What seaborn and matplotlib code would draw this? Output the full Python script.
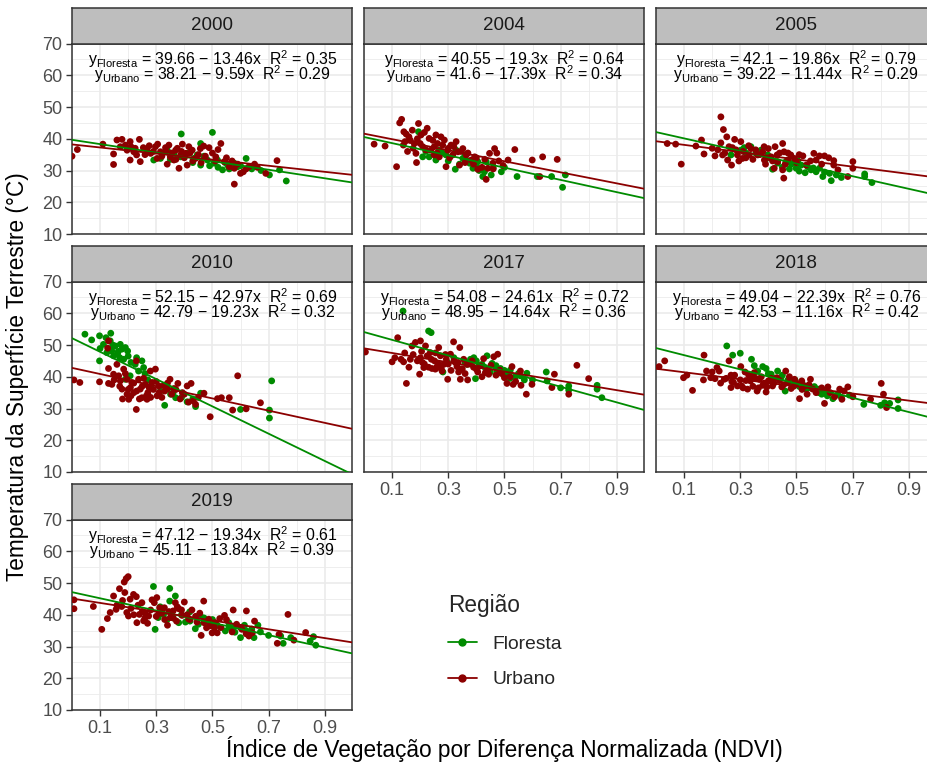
import numpy as np
import pandas as pd
import matplotlib
matplotlib.use("Agg")
import matplotlib.pyplot as plt
from matplotlib.lines import Line2D
import seaborn as sns

# ---------------------------------------------------------------- data
years = ["2000", "2004", "2005", "2010", "2017", "2018", "2019"]

intercept_floresta = [39.66, 40.55, 42.1, 52.15, 54.08, 49.04, 47.12]
slope_floresta = [-13.46, -19.3, -19.86, -42.97, -24.61, -22.39, -19.34]
r2_floresta = [0.35, 0.64, 0.79, 0.69, 0.72, 0.76, 0.61]
intercept_urbano = [38.21, 41.6, 39.22, 42.79, 48.95, 42.53, 45.11]
slope_urbano = [-9.59, -17.39, -11.44, -19.23, -14.64, -11.16, -13.84]
r2_urbano = [0.29, 0.34, 0.29, 0.32, 0.36, 0.42, 0.39]

# NDVI / LST samples, forest
ndvi_fl_2000 = [0.389, 0.5, 0.458, 0.291, 0.339, 0.434, 0.458, 0.482, 0.506, 0.536, 0.554, 0.578, 0.59, 0.62, 0.673, 0.703, 0.739, 0.763, 0.41, 0.387, 0.446, 0.518, 0.363, 0.315,
                0.35, 0.43, 0.47, 0.49, 0.52, 0.545, 0.56, 0.6, 0.64]
lst_fl_2000 = [41.5, 42.0, 38.5, 33.3, 36.4, 33.8, 31.7, 33.3, 32.3, 30.2, 31.7, 32.3, 31.2, 33.8, 30.0, 28.6, 30.2, 26.7, 35.4, 34.3, 34.9, 33.3, 35.4, 33.8,
               33.5, 32.5, 34.5, 31.5, 31.0, 32.5, 30.5, 31.5, 30.5]
ndvi_fl_2004 = [0.194, 0.209, 0.256, 0.292, 0.325, 0.328, 0.352, 0.376, 0.388, 0.405, 0.423, 0.429, 0.453, 0.489, 0.545, 0.617, 0.668, 0.707, 0.717, 0.435, 0.364, 0.268, 0.232,
                0.22, 0.3, 0.34, 0.36, 0.4, 0.41, 0.46, 0.5, 0.28]
lst_fl_2004 = [42.2, 34.3, 33.3, 34.9, 30.4, 36.4, 33.8, 32.3, 30.7, 32.8, 28.1, 29.6, 28.6, 29.6, 28.1, 28.1, 28.1, 24.7, 28.6, 32.8, 33.3, 36.4, 34.3,
               36.0, 33.0, 32.0, 35.0, 31.5, 30.0, 30.8, 31.0, 35.5]
ndvi_fl_2005 = [0.302, 0.314, 0.338, 0.356, 0.374, 0.415, 0.433, 0.463, 0.482, 0.499, 0.517, 0.531, 0.54, 0.552, 0.57, 0.582, 0.594, 0.618, 0.624, 0.642, 0.743, 0.743, 0.769, 0.267, 0.398, 0.505,
                0.32, 0.39, 0.45, 0.475, 0.49, 0.51, 0.56, 0.6, 0.66]
lst_fl_2005 = [36.4, 37.2, 37.5, 35.4, 36.4, 30.4, 32.3, 32.8, 32.0, 30.7, 31.7, 29.3, 31.2, 30.2, 29.6, 30.7, 28.1, 29.1, 26.8, 28.6, 28.9, 28.1, 26.2, 34.9, 34.9, 33.1,
               35.5, 33.5, 31.0, 30.5, 32.5, 29.8, 30.8, 29.5, 27.8]
ndvi_fl_2010 = [0.046, 0.07, 0.098, 0.1, 0.098, 0.112, 0.121, 0.138, 0.136, 0.142, 0.154, 0.162, 0.172, 0.178, 0.19, 0.198, 0.184, 0.225, 0.249, 0.255, 0.237, 0.19, 0.207, 0.315, 0.33, 0.351, 0.369, 0.41, 0.44, 0.458, 0.6, 0.703, 0.703, 0.711, 0.148, 0.124,
                0.13, 0.145, 0.165, 0.17, 0.2, 0.21, 0.23, 0.26, 0.27, 0.28, 0.34, 0.36, 0.39, 0.43]
lst_fl_2010 = [53.4, 51.6, 52.9, 48.9, 45.0, 50.2, 52.3, 53.7, 51.3, 48.1, 49.7, 47.1, 50.2, 48.7, 49.2, 48.1, 45.5, 43.9, 45.0, 42.9, 41.8, 39.2, 40.3, 35.5, 31.0, 34.5, 33.4, 32.1, 30.6, 34.8, 29.7, 29.5, 27.0, 38.7, 46.6, 47.6,
               48.5, 50.0, 48.0, 46.0, 46.5, 44.5, 46.0, 41.0, 39.0, 37.0, 36.5, 35.0, 33.5, 33.0]
ndvi_fl_2017 = [0.23, 0.239, 0.139, 0.281, 0.297, 0.343, 0.367, 0.379, 0.391, 0.397, 0.409, 0.42, 0.438, 0.456, 0.474, 0.486, 0.509, 0.539, 0.557, 0.571, 0.58, 0.649, 0.652, 0.729, 0.729, 0.83, 0.83, 0.847, 0.521,
                0.32, 0.36, 0.4, 0.43, 0.45, 0.47, 0.5, 0.52, 0.55, 0.6, 0.7]
lst_fl_2017 = [54.4, 53.9, 60.7, 41.5, 44.5, 42.4, 43.9, 45.5, 46.0, 39.4, 43.4, 43.9, 46.6, 44.2, 41.8, 42.6, 41.1, 40.0, 40.3, 39.0, 41.1, 41.5, 38.7, 37.1, 35.8, 37.3, 36.1, 33.4, 42.1,
               46.0, 44.5, 45.0, 43.0, 41.5, 43.5, 42.0, 39.5, 41.0, 39.0, 36.5]
ndvi_fl_2018 = [0.252, 0.273, 0.3, 0.34, 0.38, 0.392, 0.41, 0.445, 0.46, 0.481, 0.495, 0.511, 0.535, 0.564, 0.576, 0.59, 0.605, 0.63, 0.648, 0.689, 0.74, 0.814, 0.832, 0.862, 0.862, 0.433, 0.362,
                0.35, 0.4, 0.42, 0.45, 0.47, 0.5, 0.52, 0.55, 0.58, 0.61, 0.66, 0.8]
lst_fl_2018 = [49.7, 46.8, 47.4, 45.5, 43.2, 42.6, 40.8, 39.7, 35.5, 38.2, 39.0, 36.9, 36.1, 36.9, 36.1, 34.5, 35.5, 33.1, 34.5, 34.2, 31.3, 31.8, 31.6, 32.7, 30.0, 41.8, 41.8,
               43.5, 41.0, 39.5, 40.5, 39.0, 37.5, 38.0, 36.5, 35.0, 34.0, 33.5, 31.0]
ndvi_fl_2019 = [0.29, 0.348, 0.348, 0.368, 0.296, 0.307, 0.326, 0.338, 0.38, 0.404, 0.419, 0.439, 0.457, 0.481, 0.499, 0.517, 0.546, 0.558, 0.576, 0.6, 0.614, 0.648, 0.662, 0.671, 0.743, 0.752, 0.779, 0.848, 0.86, 0.868, 0.314,
                0.36, 0.39, 0.42, 0.45, 0.47, 0.5, 0.53, 0.56, 0.58, 0.62, 0.64, 0.7]
lst_fl_2019 = [48.9, 48.3, 44.3, 45.9, 35.4, 39.1, 40.1, 38.4, 37.5, 37.7, 40.9, 35.6, 39.6, 38.0, 36.7, 36.7, 34.9, 37.5, 36.3, 32.8, 36.7, 32.8, 36.7, 34.6, 33.3, 31.0, 32.8, 31.7, 33.1, 30.4, 42.5,
               39.0, 40.0, 38.0, 37.0, 39.0, 38.5, 36.0, 36.0, 34.5, 35.0, 35.5, 33.5]

# NDVI / LST samples, urban
ndvi_ur_2000 = [0.0, 0.019, 0.11, 0.148, 0.148, 0.16, 0.178, 0.207, 0.24, 0.21, 0.22, 0.207, 0.243, 0.23, 0.267, 0.297, 0.315, 0.303, 0.333, 0.35, 0.369, 0.381, 0.393, 0.363, 0.405, 0.416, 0.428, 0.41, 0.44, 0.457, 0.469, 0.488, 0.53, 0.52, 0.512, 0.542, 0.56, 0.578, 0.578, 0.6, 0.61, 0.63, 0.65, 0.69, 0.73, 0.28, 0.254, 0.196, 0.172, 0.339, 0.387,
                0.19, 0.225, 0.26, 0.275, 0.29, 0.305, 0.32, 0.335, 0.345, 0.355, 0.37, 0.375, 0.39, 0.4, 0.42, 0.43, 0.45, 0.46, 0.475, 0.5, 0.51, 0.55, 0.57, 0.59, 0.62, 0.66]
lst_ur_2000 = [34.5, 36.6, 38.3, 35.2, 31.9, 39.6, 39.8, 39.1, 39.8, 37.5, 35.9, 33.3, 32.8, 34.9, 36.6, 37.5, 35.9, 33.8, 37.2, 34.3, 36.4, 30.7, 38.3, 33.3, 35.4, 37.5, 36.4, 31.7, 33.8, 36.9, 37.7, 37.2, 38.5, 36.6, 34.3, 32.8, 31.2, 30.7, 25.7, 29.1, 29.6, 31.2, 32.0, 29.1, 33.1, 35.4, 37.2, 36.4, 37.5, 32.0, 34.9,
               38.0, 37.0, 35.0, 37.8, 36.0, 38.3, 34.5, 36.0, 38.0, 35.5, 33.5, 37.0, 36.0, 34.0, 35.5, 33.0, 35.0, 32.5, 34.5, 35.5, 33.0, 34.0, 33.0, 32.0, 30.5, 31.0]
ndvi_ur_2004 = [0.036, 0.075, 0.116, 0.127, 0.134, 0.142, 0.146, 0.16, 0.172, 0.179, 0.185, 0.194, 0.203, 0.209, 0.187, 0.225, 0.232, 0.238, 0.256, 0.262, 0.268, 0.274, 0.286, 0.292, 0.298, 0.31, 0.328, 0.334, 0.34, 0.352, 0.364, 0.382, 0.394, 0.405, 0.435, 0.441, 0.447, 0.465, 0.473, 0.459, 0.495, 0.513, 0.537, 0.599, 0.626, 0.636, 0.688, 0.316, 0.25,
                0.15, 0.165, 0.175, 0.19, 0.2, 0.215, 0.22, 0.245, 0.25, 0.26, 0.28, 0.3, 0.305, 0.32, 0.345, 0.36, 0.37, 0.39, 0.4, 0.42, 0.43, 0.46, 0.48, 0.155, 0.14]
lst_ur_2004 = [38.3, 37.7, 31.2, 45.0, 46.1, 42.2, 39.1, 40.6, 42.7, 38.5, 35.4, 44.8, 41.2, 37.5, 32.5, 43.3, 40.1, 36.4, 41.2, 38.5, 34.3, 40.6, 39.6, 31.2, 36.4, 38.0, 39.1, 35.9, 31.7, 36.9, 34.9, 33.3, 34.3, 30.4, 27.2, 30.7, 35.4, 36.9, 35.5, 32.3, 31.6, 33.3, 36.6, 33.3, 28.1, 34.3, 33.5, 34.9, 34.9,
               41.5, 39.5, 37.0, 40.0, 38.5, 42.0, 36.5, 39.5, 37.5, 35.5, 38.0, 37.0, 34.0, 37.5, 36.0, 32.5, 35.5, 32.0, 34.0, 31.0, 33.5, 30.5, 33.0, 36.0, 38.0]
ndvi_ur_2005 = [0.04, 0.07, 0.09, 0.142, 0.162, 0.171, 0.21, 0.231, 0.24, 0.252, 0.231, 0.237, 0.255, 0.269, 0.272, 0.28, 0.29, 0.302, 0.308, 0.332, 0.338, 0.362, 0.38, 0.386, 0.4, 0.41, 0.424, 0.431, 0.433, 0.451, 0.455, 0.456, 0.469, 0.48, 0.493, 0.523, 0.535, 0.562, 0.57, 0.582, 0.6, 0.633, 0.633, 0.648, 0.683, 0.701, 0.701, 0.451, 0.421,
                0.2, 0.22, 0.245, 0.26, 0.285, 0.295, 0.31, 0.32, 0.33, 0.345, 0.355, 0.37, 0.385, 0.39, 0.405, 0.415, 0.44, 0.46, 0.47, 0.5, 0.51, 0.55, 0.59, 0.615]
lst_ur_2005 = [38.5, 38.3, 32.0, 37.7, 39.6, 35.2, 34.6, 46.9, 42.9, 40.6, 38.7, 34.9, 33.3, 31.7, 37.2, 39.8, 34.9, 39.1, 33.8, 34.9, 36.9, 34.9, 35.9, 33.3, 36.9, 34.3, 37.5, 34.9, 32.8, 38.5, 27.6, 35.9, 33.3, 34.9, 33.8, 34.6, 31.7, 35.4, 33.3, 34.6, 34.6, 33.1, 31.7, 30.2, 28.1, 30.7, 32.8, 30.2, 30.7,
               37.0, 36.5, 35.5, 37.5, 36.5, 33.0, 36.0, 34.0, 37.8, 33.5, 36.5, 35.0, 37.5, 32.0, 34.0, 33.0, 35.5, 32.0, 35.5, 32.5, 35.0, 33.0, 32.0, 34.0]
ndvi_ur_2010 = [0.007, 0.028, 0.098, 0.13, 0.127, 0.13, 0.13, 0.142, 0.148, 0.16, 0.166, 0.178, 0.184, 0.196, 0.202, 0.208, 0.213, 0.22, 0.229, 0.229, 0.237, 0.243, 0.249, 0.261, 0.27, 0.279, 0.285, 0.297, 0.303, 0.309, 0.327, 0.339, 0.349, 0.363, 0.377, 0.393, 0.41, 0.424, 0.432, 0.44, 0.47, 0.492, 0.518, 0.532, 0.56, 0.572, 0.59, 0.62, 0.671, 0.267, 0.196, 0.172,
                0.15, 0.17, 0.19, 0.2, 0.21, 0.22, 0.23, 0.24, 0.25, 0.255, 0.265, 0.275, 0.28, 0.29, 0.3, 0.31, 0.32, 0.33, 0.34, 0.355, 0.37, 0.385, 0.4, 0.415, 0.45, 0.18]
lst_ur_2010 = [39.0, 38.2, 38.4, 51.3, 49.0, 42.6, 37.9, 37.6, 40.8, 43.9, 40.3, 36.1, 42.4, 39.2, 32.9, 36.6, 38.2, 35.0, 45.0, 29.7, 39.2, 36.1, 33.4, 37.6, 35.0, 41.8, 38.2, 42.4, 34.0, 37.1, 37.3, 36.1, 39.2, 36.3, 37.9, 35.0, 37.1, 37.9, 32.4, 31.3, 34.8, 27.4, 33.1, 33.4, 33.4, 29.5, 40.3, 29.9, 31.8, 32.9, 34.5, 38.7,
               39.0, 37.0, 41.0, 36.0, 34.0, 38.0, 35.5, 33.0, 37.0, 39.5, 34.0, 36.5, 33.5, 36.0, 38.5, 35.0, 33.5, 35.5, 38.0, 34.5, 36.0, 33.0, 34.5, 32.0, 33.5, 33.0]
ndvi_ur_2017 = [0.005, 0.1, 0.12, 0.132, 0.141, 0.151, 0.165, 0.171, 0.183, 0.201, 0.201, 0.198, 0.208, 0.219, 0.225, 0.236, 0.242, 0.251, 0.26, 0.266, 0.272, 0.278, 0.284, 0.293, 0.298, 0.308, 0.319, 0.325, 0.331, 0.337, 0.341, 0.343, 0.355, 0.367, 0.369, 0.385, 0.4, 0.414, 0.426, 0.432, 0.444, 0.452, 0.462, 0.476, 0.483, 0.5, 0.509, 0.527, 0.531, 0.557, 0.559, 0.578, 0.598, 0.669, 0.678, 0.729, 0.758, 0.8, 0.254, 0.213,
                0.11, 0.145, 0.16, 0.175, 0.19, 0.205, 0.215, 0.23, 0.24, 0.255, 0.265, 0.275, 0.29, 0.3, 0.31, 0.32, 0.335, 0.35, 0.36, 0.375, 0.39, 0.405, 0.42, 0.44, 0.47, 0.49, 0.52, 0.54]
lst_ur_2017 = [47.8, 44.7, 52.3, 45.5, 44.7, 37.9, 45.5, 49.7, 50.8, 51.3, 46.0, 40.8, 44.5, 49.7, 46.6, 47.6, 42.6, 45.0, 43.2, 49.2, 46.6, 41.8, 43.9, 45.5, 39.2, 47.1, 51.0, 44.5, 43.2, 41.5, 49.2, 39.2, 45.5, 43.9, 39.0, 45.0, 42.4, 43.4, 45.7, 41.3, 40.8, 43.6, 46.3, 47.1, 42.1, 39.7, 37.9, 43.2, 37.6, 41.8, 37.3, 34.5, 37.6, 36.6, 40.8, 34.5, 43.6, 39.4, 42.4, 42.9,
               46.0, 47.5, 43.0, 47.0, 45.0, 48.0, 44.0, 43.0, 45.5, 47.5, 44.0, 42.5, 47.0, 44.0, 42.0, 45.0, 44.5, 42.5, 41.0, 44.0, 43.0, 41.5, 40.0, 42.0, 40.5, 41.0, 40.0, 38.5]
ndvi_ur_2018 = [0.011, 0.031, 0.098, 0.11, 0.13, 0.169, 0.171, 0.18, 0.195, 0.21, 0.217, 0.225, 0.26, 0.267, 0.267, 0.276, 0.29, 0.302, 0.305, 0.317, 0.336, 0.34, 0.35, 0.36, 0.368, 0.38, 0.392, 0.4, 0.415, 0.43, 0.448, 0.462, 0.469, 0.481, 0.493, 0.511, 0.519, 0.529, 0.538, 0.55, 0.558, 0.6, 0.612, 0.636, 0.654, 0.662, 0.683, 0.701, 0.764, 0.802, 0.81, 0.821, 0.326, 0.243,
                0.2, 0.23, 0.25, 0.27, 0.28, 0.3, 0.31, 0.32, 0.33, 0.345, 0.355, 0.365, 0.375, 0.385, 0.395, 0.41, 0.42, 0.44, 0.455, 0.475, 0.49, 0.5, 0.52, 0.545, 0.57, 0.59, 0.62, 0.67]
lst_ur_2018 = [43.2, 45.0, 39.7, 40.5, 35.7, 39.0, 46.8, 41.8, 39.7, 39.4, 42.9, 41.8, 45.0, 40.5, 36.6, 38.2, 37.1, 43.2, 37.1, 41.5, 38.7, 40.0, 41.3, 35.5, 39.2, 37.3, 35.2, 38.7, 37.1, 39.7, 36.8, 41.8, 38.2, 36.3, 39.2, 33.1, 38.7, 37.1, 34.5, 39.2, 36.1, 31.6, 36.8, 33.7, 36.1, 32.9, 36.8, 33.7, 32.9, 37.9, 34.5, 30.3, 36.1, 39.2,
               41.5, 38.0, 39.5, 38.5, 40.5, 39.0, 36.5, 38.8, 40.5, 37.0, 39.5, 36.5, 40.0, 38.0, 36.8, 39.5, 38.0, 38.8, 37.5, 40.0, 37.0, 38.0, 36.0, 37.5, 35.0, 36.5, 35.0, 35.5]
ndvi_ur_2019 = [0.007, 0.007, 0.076, 0.106, 0.126, 0.136, 0.148, 0.157, 0.169, 0.177, 0.186, 0.193, 0.2, 0.188, 0.195, 0.201, 0.207, 0.219, 0.229, 0.231, 0.24, 0.249, 0.255, 0.269, 0.273, 0.285, 0.293, 0.302, 0.312, 0.32, 0.329, 0.34, 0.35, 0.36, 0.368, 0.372, 0.38, 0.392, 0.4, 0.415, 0.427, 0.445, 0.46, 0.469, 0.479, 0.487, 0.499, 0.507, 0.517, 0.526, 0.543, 0.574, 0.57, 0.586, 0.605, 0.621, 0.63, 0.642, 0.65, 0.731, 0.737, 0.769, 0.79, 0.832, 0.261,
                0.16, 0.18, 0.21, 0.22, 0.235, 0.25, 0.26, 0.28, 0.3, 0.31, 0.33, 0.345, 0.36, 0.375, 0.39, 0.41, 0.42, 0.44, 0.455, 0.47, 0.49, 0.51, 0.53, 0.55, 0.6, 0.62]
lst_ur_2019 = [44.7, 41.9, 42.6, 35.4, 38.8, 40.7, 45.9, 41.7, 48.2, 42.6, 50.3, 51.4, 52.0, 47.0, 40.7, 39.6, 44.9, 46.4, 45.7, 37.5, 40.1, 43.8, 38.1, 37.3, 39.6, 44.7, 43.8, 45.4, 42.2, 40.5, 42.2, 36.7, 39.1, 41.2, 43.8, 38.0, 41.9, 39.8, 44.0, 38.7, 41.5, 37.7, 33.5, 44.3, 35.9, 38.6, 34.3, 35.9, 34.3, 38.8, 39.8, 41.5, 34.6, 37.0, 35.4, 41.2, 33.3, 34.3, 38.0, 31.0, 33.8, 40.1, 32.0, 34.4, 40.5,
               43.0, 44.5, 42.0, 40.0, 43.0, 41.0, 39.0, 41.5, 39.5, 40.5, 38.5, 41.0, 39.0, 42.5, 41.5, 40.0, 38.5, 39.5, 40.5, 37.5, 36.5, 37.5, 36.0, 38.5, 36.0, 34.0]

x_breaks = [0.1, 0.3, 0.5, 0.7, 0.9]
y_breaks = [10, 20, 30, 40, 50, 60, 70]

regions = ["Floresta", "Urbano"]
palette = {"Floresta": "#008B00", "Urbano": "#8B0000"}

floresta = {
    "2000": (ndvi_fl_2000, lst_fl_2000), "2004": (ndvi_fl_2004, lst_fl_2004),
    "2005": (ndvi_fl_2005, lst_fl_2005), "2010": (ndvi_fl_2010, lst_fl_2010),
    "2017": (ndvi_fl_2017, lst_fl_2017), "2018": (ndvi_fl_2018, lst_fl_2018),
    "2019": (ndvi_fl_2019, lst_fl_2019),
}
urbano = {
    "2000": (ndvi_ur_2000, lst_ur_2000), "2004": (ndvi_ur_2004, lst_ur_2004),
    "2005": (ndvi_ur_2005, lst_ur_2005), "2010": (ndvi_ur_2010, lst_ur_2010),
    "2017": (ndvi_ur_2017, lst_ur_2017), "2018": (ndvi_ur_2018, lst_ur_2018),
    "2019": (ndvi_ur_2019, lst_ur_2019),
}

frames = []
for reg, src in (("Floresta", floresta), ("Urbano", urbano)):
    for yr, (xs, ys) in src.items():
        frames.append(pd.DataFrame({"ano": yr, "regiao": reg, "ndvi": xs, "lst": ys}))
df = pd.concat(frames, ignore_index=True)

# ---------------------------------------------------------------- style
sns.set_theme(style="white")
plt.rcParams["font.family"] = ["Liberation Sans", "DejaVu Sans"]
plt.rcParams["mathtext.fontset"] = "custom"
plt.rcParams["mathtext.rm"] = "Liberation Sans"
plt.rcParams["mathtext.it"] = "Liberation Sans:italic"
plt.rcParams["mathtext.bf"] = "Liberation Sans:bold"

W, H = 927, 767
fig = plt.figure(figsize=(W / 100, H / 100), dpi=100)
fig.patch.set_facecolor("white")


def rect(x0, y0, x1, y1):
    return [x0 / W, 1 - y1 / H, (x1 - x0) / W, (y1 - y0) / H]


col_left = [72, 364, 656]
panel_w = 280
strip_top = [8, 246, 484]
strip_h = 35.5
panel_h = 190.5
grid_col = "#EBEBEB"
border_col = "#333333"

# facet position: (row, col); x-axis labels shown on the last panel of each column
layout = {"2000": (0, 0), "2004": (0, 1), "2005": (0, 2), "2010": (1, 0),
          "2017": (1, 1), "2018": (1, 2), "2019": (2, 0)}
bottom_of_col = {"2019", "2017", "2018"}

xs_line = np.array([0.0, 1.0])

for i, yr in enumerate(years):
    r, c = layout[yr]
    x0 = col_left[c]
    st = strip_top[r]
    p_top = st + strip_h
    ax = fig.add_axes(rect(x0, p_top, x0 + panel_w, p_top + panel_h))
    sax = fig.add_axes(rect(x0, st, x0 + panel_w, p_top))

    # strip
    sax.set_facecolor("#BEBEBE")
    sax.set_xticks([])
    sax.set_yticks([])
    for s in sax.spines.values():
        s.set_color(border_col)
        s.set_linewidth(1.1)
    sax.text(0.5, 0.5, yr, ha="center", va="center", fontsize=13.5,
             color="#1A1A1A", transform=sax.transAxes)

    # panel
    ax.set_facecolor("white")
    ax.set_xlim(0.0, 0.997)
    ax.set_ylim(10, 70)
    ax.set_xticks(x_breaks)
    ax.set_xticks([0.0, 0.2, 0.4, 0.6, 0.8], minor=True)
    ax.set_yticks(y_breaks)
    ax.set_yticks([15, 25, 35, 45, 55, 65], minor=True)
    ax.grid(which="major", color=grid_col, linewidth=1.2, zorder=0)
    ax.grid(which="minor", color=grid_col, linewidth=0.6, zorder=0)
    ax.set_axisbelow(True)

    sub = df[df["ano"] == yr]
    sns.scatterplot(data=sub, x="ndvi", y="lst", hue="regiao", hue_order=regions,
                    palette=palette, s=24, linewidth=0, legend=False, ax=ax, zorder=3)

    fits = [(intercept_floresta[i], slope_floresta[i], "Floresta"),
            (intercept_urbano[i], slope_urbano[i], "Urbano")]
    for a, b, reg in fits:
        sns.lineplot(x=xs_line, y=a + b * xs_line, color=palette[reg], linewidth=1.3,
                     ax=ax, zorder=4)

    lab_f = (r"$\mathrm{y}_{\mathrm{Floresta}}$" + f" = {intercept_floresta[i]:g} \u2212 "
             f"{abs(slope_floresta[i]):g}x  " + r"R$^{2}$" + f" = {r2_floresta[i]:.2f}")
    lab_u = (r"$\mathrm{y}_{\mathrm{Urbano}}$" + f" = {intercept_urbano[i]:g} \u2212 "
             f"{abs(slope_urbano[i]):g}x  " + r"R$^{2}$" + f" = {r2_urbano[i]:.2f}")
    ax.text(0.5, 63.1, lab_f, ha="center", va="baseline", fontsize=11.4, color="black", zorder=5)
    ax.text(0.5, 58.4, lab_u, ha="center", va="baseline", fontsize=11.4, color="black", zorder=5)

    ax.set_xlabel("")
    ax.set_ylabel("")
    for s in ax.spines.values():
        s.set_color(border_col)
        s.set_linewidth(1.1)

    show_x = yr in bottom_of_col
    show_y = c == 0
    ax.tick_params(axis="x", which="major", bottom=show_x, labelbottom=show_x,
                   length=4, width=1.0, color=border_col, labelsize=13,
                   labelcolor="#4D4D4D", pad=3)
    ax.tick_params(axis="y", which="major", left=show_y, labelleft=show_y,
                   length=4, width=1.0, color=border_col, labelsize=13,
                   labelcolor="#4D4D4D", pad=3)
    ax.tick_params(which="minor", bottom=False, left=False)
    if show_x:
        ax.set_xticklabels([f"{v:.1f}" for v in x_breaks])

# axis titles
fig.text(504 / W, 1 - 749 / H, "Índice de Vegetação por Diferença Normalizada (NDVI)",
         ha="center", va="center", fontsize=16.3, color="black")
fig.text(18 / W, 1 - 377 / H, "Temperatura da Superfície Terrestre (°C)",
         ha="center", va="center", rotation=90, fontsize=16.3, color="black")

# legend
handles = [Line2D([0], [0], color=palette[r], marker="o", markersize=5, linewidth=1.3)
           for r in regions]
leg = fig.legend(handles, regions, title="Região", loc="upper left",
                 bbox_to_anchor=(440 / W, 1 - 586 / H), frameon=False,
                 fontsize=13.9, title_fontsize=16.3, handlelength=1.5,
                 labelspacing=0.95, handletextpad=0.8, borderaxespad=0)
leg._legend_box.align = "left"

fig.savefig("out.png", dpi=100, facecolor="white")
